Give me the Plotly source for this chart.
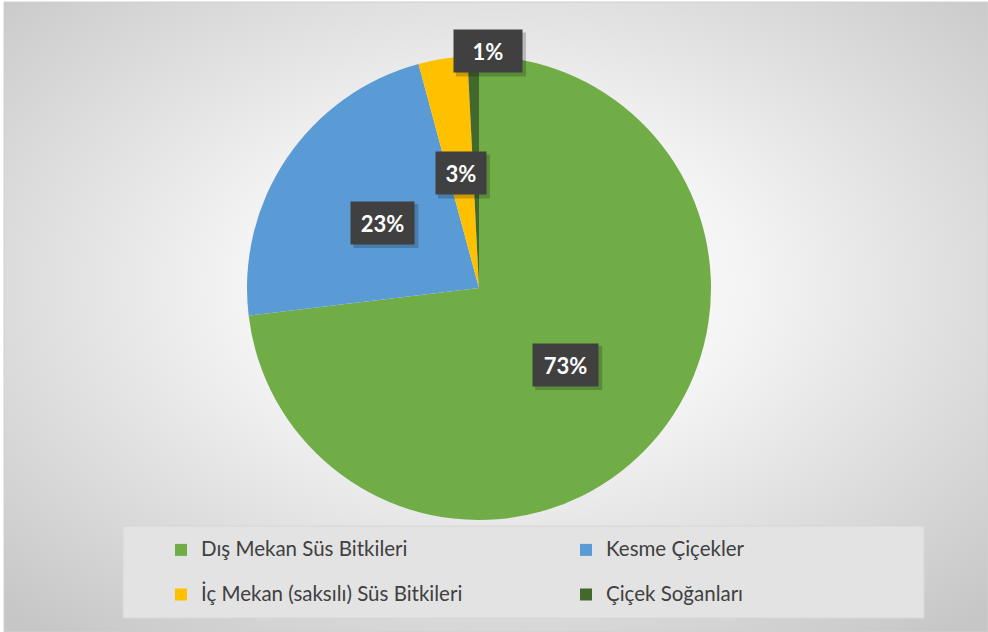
import base64
import math

import plotly.graph_objects as go

W, H = 988, 632

LABELS = [
    "Dış Mekan Süs Bitkileri",
    "Kesme Çiçekler",
    "İç Mekan (saksılı) Süs Bitkileri",
    "Çiçek Soğanları",
]
VALUES = [73.1, 22.7, 3.4, 0.8]
COLORS = ["#70AD47", "#5B9BD5", "#FFC000", "#43682B"]

# label placement (fraction of radius), nudges and box text widths, like Excel's "best fit"
LABEL_DIST = [0.5, 0.5, 0.5, 1.02]
LABEL_XSHIFT = [0, 0, 0, 15]
BOX_W = [47, 45, 32, 50]
BOX_H = 24
BOX_PAD = 9

FONT = "Lato, 'Open Sans', sans-serif"

# pie geometry in pixels
PIE_CX, PIE_CY, PIE_R = 479, 288, 232

# radial gradient backdrop as an inline svg
bg_svg = (
    "<svg xmlns='http://www.w3.org/2000/svg' width='984' height='630'>"
    "<defs><radialGradient id='g' cx='50%' cy='45%' r='72%'>"
    "<stop offset='0' stop-color='#ffffff'/>"
    "<stop offset='0.35' stop-color='#f4f4f4'/>"
    "<stop offset='1' stop-color='#c6c6c6'/>"
    "</radialGradient></defs>"
    "<rect width='984' height='630' fill='url(#g)'/></svg>"
)
bg_src = "data:image/svg+xml;base64," + base64.b64encode(bg_svg.encode()).decode()

fig = go.Figure()

fig.add_trace(
    go.Pie(
        # trailing blank line gives the legend rows Excel's spacing
        labels=[f"<span style='font-size:20.5px'>{l}</span><br> " for l in LABELS],
        values=VALUES,
        marker=dict(colors=COLORS, line=dict(width=0)),
        sort=False,
        direction="clockwise",
        rotation=0,
        textinfo="none",
        hoverinfo="percent",
        domain=dict(
            x=[(PIE_CX - PIE_R) / W, (PIE_CX + PIE_R) / W],
            y=[1 - (PIE_CY + PIE_R) / H, 1 - (PIE_CY - PIE_R) / H],
        ),
    )
)

shapes = [
    # chart border
    dict(type="rect", xref="paper", yref="paper",
         x0=4 / W, x1=1, y0=0, y1=1 - 2 / H,
         line=dict(color="#d0d0d0", width=1), fillcolor="rgba(0,0,0,0)", layer="below"),
    # legend panel
    dict(type="rect", xref="paper", yref="paper",
         x0=123 / W, x1=924 / W, y0=1 - 618 / H, y1=1 - 526 / H,
         line=dict(color="#d6d6d6", width=1), fillcolor="#e3e3e3", layer="below"),
]

# percentage labels in dark boxes, positioned from the slice angles
total = sum(VALUES)
cum = 0
annotations = []
for v, dist, xs, bw in zip(VALUES, LABEL_DIST, LABEL_XSHIFT, BOX_W):
    mid = (cum + v / 2) / total * 2 * math.pi
    cum += v
    px = PIE_CX + dist * PIE_R * math.sin(mid) + xs
    py = PIE_CY - dist * PIE_R * math.cos(mid)
    pct = f"{round(v / total * 100)}%"
    hw = bw / 2 + BOX_PAD + 1
    hh = BOX_H / 2 + BOX_PAD + 1
    # soft drop shadow
    shapes.append(
        dict(type="rect", xref="paper", yref="paper",
             x0=(px - hw + 3) / W, x1=(px + hw + 3) / W,
             y0=1 - (py + hh + 3) / H, y1=1 - (py - hh + 3) / H,
             line=dict(width=0), fillcolor="rgba(0,0,0,0.2)", layer="above")
    )
    annotations.append(
        dict(
            x=px / W, y=1 - py / H, xref="paper", yref="paper",
            xanchor="center", yanchor="middle",
            text=f"<b>{pct}</b>", showarrow=False,
            width=bw, height=BOX_H,
            font=dict(family=FONT, size=22, color="#ffffff"),
            bgcolor="#404040", borderpad=BOX_PAD,
        )
    )

fig.update_layout(
    width=W,
    height=H,
    margin=dict(l=0, r=0, t=0, b=0, autoexpand=False),
    paper_bgcolor="#ffffff",
    font=dict(family=FONT, color="#404040"),
    images=[
        dict(
            source=bg_src, xref="paper", yref="paper",
            x=4 / W, y=1 - 2 / H, sizex=984 / W, sizey=630 / H,
            xanchor="left", yanchor="top", sizing="stretch", layer="below",
        )
    ],
    shapes=shapes,
    annotations=annotations,
    showlegend=True,
    legend=dict(
        orientation="h",
        x=161 / W, xanchor="left",
        y=1 - 533 / H, yanchor="top",
        bgcolor="rgba(0,0,0,0)",
        font=dict(family=FONT, size=16, color="#404040"),
        entrywidth=360,
        itemwidth=30,
        valign="top",
        traceorder="normal",
    ),
)

fig.write_html(
    "out.html",
    config={"displayModeBar": False},
    post_script="document.body.style.margin='0px';",
)
